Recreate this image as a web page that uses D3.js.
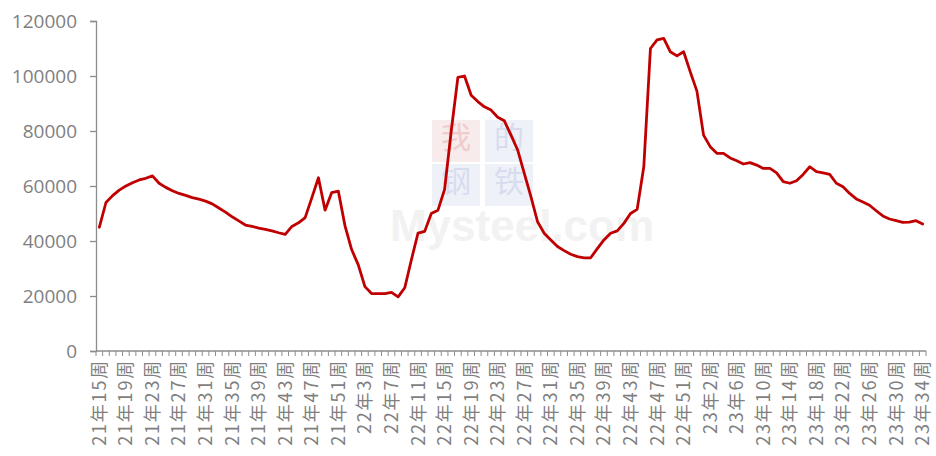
<!DOCTYPE html>
<html>
<head>
<meta charset="utf-8">
<script src="https://cdn.jsdelivr.net/npm/d3@7"></script>
<style>
  html, body { margin: 0; padding: 0; background: #ffffff; }
  svg { display: block; }
</style>
</head>
<body>
<svg id="chart" width="936" height="456"></svg>
<script>
// ---------- data ----------
const years = ["21", "22", "23"];
const weekRanges = [[15, 52], [1, 53], [1, 34]];
const categories = [];
years.forEach((y, k) => {
  for (let w = weekRanges[k][0]; w <= weekRanges[k][1]; w++) categories.push(y + "年" + w + "周");
});

const values = [
  45000, 54000, 56500, 58500, 60000, 61200, 62200, 62800, 63700, 61000,
  59500, 58300, 57300, 56600, 55800, 55200, 54500, 53500, 52000, 50500,
  48800, 47300, 45800, 45300, 44700, 44200, 43700, 43000, 42400, 45300,
  46600, 48500, 55700, 63000, 51200, 57600, 58100, 45500, 36900, 31300,
  23400, 20900, 20900, 20900, 21300, 19700, 23000, 33200, 42900, 43500,
  50000, 51200, 58800, 80000, 99500, 100000, 93000, 90700, 88800, 87600,
  85000, 83700, 78500, 73100, 64600, 56100, 47000, 42800, 40400, 38000,
  36500, 35200, 34300, 33900, 33900, 37200, 40400, 42800, 43700, 46400,
  50000, 51500, 67000, 110000, 113100, 113700, 108800, 107300, 108800, 101500,
  94500, 78500, 74300, 71900, 71900, 70200, 69200, 68000, 68500, 67600,
  66400, 66400, 64800, 61600, 61000, 61900, 64200, 67000, 65200, 64800,
  64200, 61000, 59700, 57300, 55300, 54200, 53000, 51000, 49100, 48000,
  47400, 46800, 46900, 47400, 46200
];

const yTicks = [0, 20000, 40000, 60000, 80000, 100000, 120000];
const labelEvery = 4;

// ---------- layout ----------
const svg = d3.select("#chart");
const mLeft = 96, mRight = 926, mTop = 21, mBottom = 351;

const x = d3.scaleBand().domain(categories).range([mLeft, mRight]).paddingInner(0).paddingOuter(0);
const y = d3.scaleLinear().domain([0, 120000]).range([mBottom, mTop]);

const axisColor = "#8c8c8c";
const textColor = "#7f7f7f";

// watermark (faint)
const wm = svg.append("g");
const wmBoxes = [
  { ch: "我", bx: 432, by: 120, base: 148, fill: "#f4dede", tc: "#eab8b8" },
  { ch: "的", bx: 485, by: 120, base: 148, fill: "#e4e8f4", tc: "#c8d0e8" },
  { ch: "钢", bx: 432, by: 164, base: 192, fill: "#e4e8f4", tc: "#c8d0e8" },
  { ch: "铁", bx: 485, by: 164, base: 192, fill: "#e4e8f4", tc: "#c8d0e8" }
];
wmBoxes.forEach(b => {
  wm.append("rect").attr("x", b.bx).attr("y", b.by).attr("width", 48).attr("height", 42).attr("fill", b.fill).attr("opacity", 0.6);
  wm.append("text").attr("x", b.bx + 24).attr("y", b.base).attr("text-anchor", "middle")
    .attr("font-family", "'Noto Sans CJK SC', sans-serif").attr("font-size", 30)
    .attr("fill", b.tc).attr("opacity", 0.6).text(b.ch);
});
wm.append("text").attr("x", 522).attr("y", 241).attr("text-anchor", "middle")
  .attr("font-family", "Arial, 'Liberation Sans', sans-serif").attr("font-weight", "bold")
  .attr("font-size", 44).attr("fill", "#f2f2f2").text("Mysteel.com");

// y axis
const yAxis = d3.axisLeft(y).tickValues(yTicks).tickSize(6).tickPadding(13).tickFormat(d3.format("d"));
const gy = svg.append("g").attr("transform", `translate(${mLeft},0)`).call(yAxis);
gy.select(".domain").attr("stroke", axisColor).attr("stroke-width", 1.3);
gy.selectAll(".tick line").attr("stroke", axisColor).attr("stroke-width", 1.3);
gy.selectAll(".tick text").attr("fill", textColor)
  .attr("font-family", "'Open Sans', sans-serif").attr("font-size", 19);

// x axis
const gx = svg.append("g").attr("transform", `translate(0,${mBottom})`);
gx.append("line").attr("x1", mLeft).attr("x2", mRight).attr("y1", 0).attr("y2", 0)
  .attr("stroke", axisColor).attr("stroke-width", 1.3);
const boundaries = categories.map(c => x(c)).concat([x(categories[categories.length - 1]) + x.bandwidth()]);
gx.selectAll("line.tk").data(boundaries).join("line").attr("class", "tk")
  .attr("x1", d => d).attr("x2", d => d).attr("y1", 0).attr("y2", 5)
  .attr("stroke", axisColor).attr("stroke-width", 1);

const labelCats = categories.filter((c, i) => i % labelEvery === 0);
gx.selectAll("text.xl").data(labelCats).join("text").attr("class", "xl")
  .attr("transform", d => `translate(${x(d) + x.bandwidth() / 2},8) rotate(-90)`)
  .attr("text-anchor", "end").attr("dy", "0.36em")
  .attr("fill", textColor)
  .attr("font-family", "'Noto Sans CJK SC', sans-serif").attr("font-size", 18)
  .attr("letter-spacing", "1.8px")
  .text(d => d);

// line
const line = d3.line()
  .x((d, i) => x(categories[i]) + x.bandwidth() / 2)
  .y(d => y(d));
svg.append("path").datum(values)
  .attr("fill", "none").attr("stroke", "#c00000").attr("stroke-width", 2.8)
  .attr("stroke-linejoin", "round").attr("stroke-linecap", "round")
  .attr("d", line);
</script>
</body>
</html>
